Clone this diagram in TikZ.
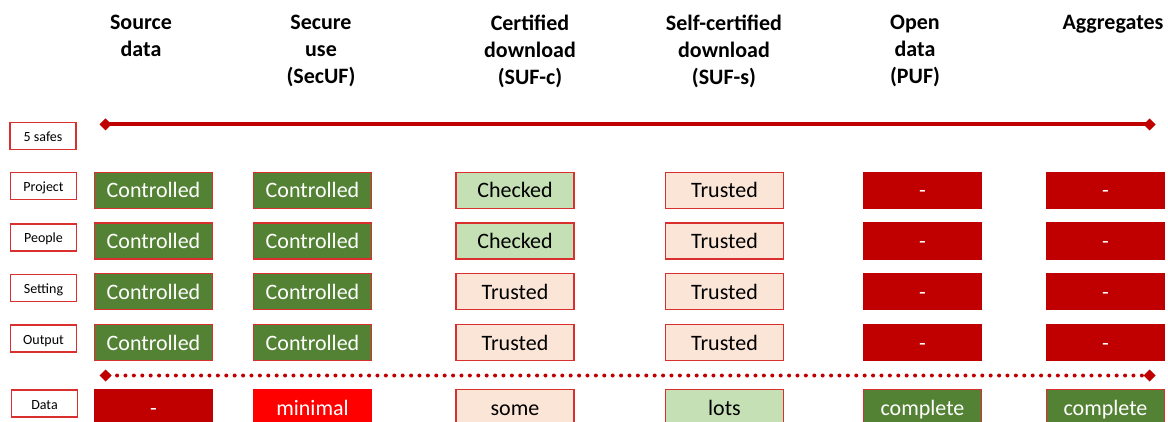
\documentclass[tikz,border=0pt]{standalone}
\usepackage{fontspec}
\setmainfont{Carlito}
\usetikzlibrary{arrows.meta}

\definecolor{edgered}{HTML}{D9302F}
\definecolor{darkred}{HTML}{C00000}
\definecolor{brightred}{HTML}{FF0000}
\definecolor{darkgreen}{HTML}{548235}
\definecolor{lightgreen}{HTML}{C5E0B4}
\definecolor{peach}{HTML}{FBE5D6}

\begin{document}
\begin{tikzpicture}[x=1pt,y=-1pt,
  cell/.style={draw=edgered,line width=1.3pt,minimum width=118pt,minimum height=36pt,
    inner sep=0pt,text height=16pt,text depth=1pt,font=\fontsize{22}{26}\selectfont},
  controlled/.style={cell,fill=darkgreen,text=white},
  checked/.style={cell,fill=lightgreen},
  trusted/.style={cell,fill=peach},
  nothing/.style={cell,fill=darkred,draw=darkred,text=white},
  minimal/.style={cell,fill=brightred,draw=brightred,text=white},
  safe/.style={draw=edgered,line width=1.2pt,minimum width=66pt,minimum height=27pt,
    inner sep=0pt,text height=11pt,text depth=0pt,font=\fontsize{14}{16}\selectfont},
  head/.style={anchor=north,inner sep=0pt,align=center,font=\bfseries\fontsize{22}{27}\selectfont},
  gem/.tip={Diamond[length=12pt,width=12pt]}
]
\clip (0,0) rectangle (1168,422);

% column heads
\node[head] (hsource) at (141,15) {Source\\data};
\node[head] (hsecure) at (321,15) {Secure\\use\\(SecUF)};
\node[head] (hcert) at (530,15) {Certified\\download\\(SUF-c)};
\node[head] (hself) at (724,15) {Self-certified\\download\\(SUF-s)};
\node[head] (hopen) at (915,15) {Open\\data\\(PUF)};
\node[head] (hagg) at (1113,15) {Aggregates};

% row labels
\node[safe] (lsafes) at (43,136) {5 safes};
\node[safe] (lproject) at (43.5,186) {Project};
\node[safe] (lpeople) at (43.5,237.5) {People};
\node[safe] (lsetting) at (43.5,288) {Setting};
\node[safe] (loutput) at (43.5,338.5) {Output};
\node[safe] (ldata) at (44.5,403.5) {Data};

% the 5 safes line
\coordinate (safesL) at (99.5,124.5);
\coordinate (safesR) at (1155.5,124.5);
\draw[darkred,line width=4pt,gem-gem] (safesL) -- (safesR);

% project
\node[controlled] (project1) at (153.5,190.5) {Controlled};
\node[controlled] (project2) at (312.5,190.5) {Controlled};
\node[checked] (project3) at (515,190.5) {Checked};
\node[trusted] (project4) at (724.5,190.5) {Trusted};
\node[nothing] (project5) at (922.5,190.5) {-};
\node[nothing] (project6) at (1105.5,190.5) {-};

% people
\node[controlled] (people1) at (153.5,241) {Controlled};
\node[controlled] (people2) at (312.5,241) {Controlled};
\node[checked] (people3) at (515,241) {Checked};
\node[trusted] (people4) at (724.5,241) {Trusted};
\node[nothing] (people5) at (922.5,241) {-};
\node[nothing] (people6) at (1105.5,241) {-};

% setting
\node[controlled] (setting1) at (153.5,291.5) {Controlled};
\node[controlled] (setting2) at (312.5,291.5) {Controlled};
\node[trusted] (setting3) at (515,291.5) {Trusted};
\node[trusted] (setting4) at (724.5,291.5) {Trusted};
\node[nothing] (setting5) at (922.5,291.5) {-};
\node[nothing] (setting6) at (1105.5,291.5) {-};

% output
\node[controlled] (output1) at (153.5,342.5) {Controlled};
\node[controlled] (output2) at (312.5,342.5) {Controlled};
\node[trusted] (output3) at (515,342.5) {Trusted};
\node[trusted] (output4) at (724.5,342.5) {Trusted};
\node[nothing] (output5) at (922.5,342.5) {-};
\node[nothing] (output6) at (1105.5,342.5) {-};

% the data line
\coordinate (dataL) at (99.5,375.5);
\coordinate (dataR) at (1155.5,375.5);
\draw[darkred,line width=4pt,line cap=round,dash pattern=on 0pt off 8.4pt,gem-gem] (dataL) -- (dataR);

% data
\node[nothing] (data1) at (153.5,407.5) {-};
\node[minimal] (data2) at (312.5,407.5) {minimal};
\node[trusted] (data3) at (515,407.5) {some};
\node[checked] (data4) at (724.5,407.5) {lots};
\node[controlled] (data5) at (922.5,407.5) {complete};
\node[controlled] (data6) at (1105.5,407.5) {complete};
\end{tikzpicture}
\end{document}
